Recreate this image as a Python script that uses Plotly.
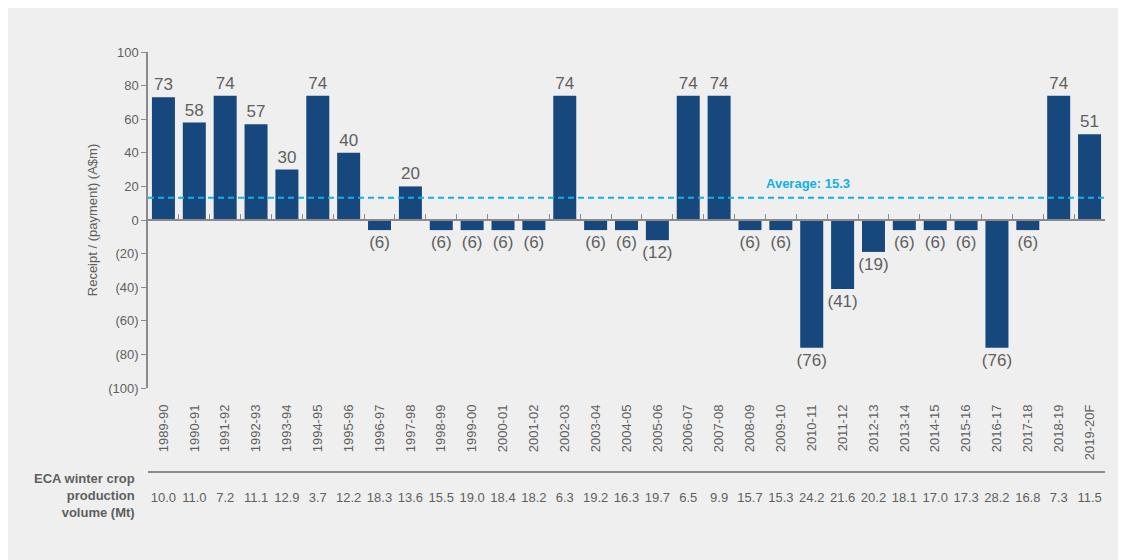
import plotly.graph_objects as go

categories = ["1989-90", "1990-91", "1991-92", "1992-93", "1993-94", "1994-95", "1995-96",
              "1996-97", "1997-98", "1998-99", "1999-00", "2000-01", "2001-02", "2002-03",
              "2003-04", "2004-05", "2005-06", "2006-07", "2007-08", "2008-09", "2009-10",
              "2010-11", "2011-12", "2012-13", "2013-14", "2014-15", "2015-16", "2016-17",
              "2017-18", "2018-19", "2019-20F"]
receipts = [73, 58, 74, 57, 30, 74, 40, -6, 20, -6, -6, -6, -6, 74, -6, -6, -12, 74, 74,
            -6, -6, -76, -41, -19, -6, -6, -6, -76, -6, 74, 51]
volumes = [10.0, 11.0, 7.2, 11.1, 12.9, 3.7, 12.2, 18.3, 13.6, 15.5, 19.0, 18.4, 18.2, 6.3,
           19.2, 16.3, 19.7, 6.5, 9.9, 15.7, 15.3, 24.2, 21.6, 20.2, 18.1, 17.0, 17.3, 28.2,
           16.8, 7.3, 11.5]
y_ticks = [100, 80, 60, 40, 20, 0, -20, -40, -60, -80, -100]
average_label = 15.3
average_line_level = 13.2
average_label_category = "2010-11"

GREY = "#5f5f5f"
BAR = "#16487e"
CYAN = "#12b0e3"
AXIS = "#8a8a8a"
BG = "#efefef"
FONT = "Arial, Liberation Sans, sans-serif"


def fmt(v):
    return f"({abs(v)})" if v < 0 else str(v)


# page is offset by the 8px body margin
W, H = 1118, 552
L, T = 140, 44
plot_right = 1097
sep_px = 464          # table separator line
bottom_px = 380       # bottom of value axis
zero_px = 212         # zero line
R = W - plot_right
B = H - sep_px
plot_h = H - T - B
plot_w = W - L - R
dom0 = (sep_px - bottom_px) / plot_h
zero_pos = (sep_px - zero_px) / plot_h

fig = go.Figure()
fig.add_trace(go.Bar(
    x=categories, y=receipts, marker_color=BAR, marker_line_width=0,
    text=[fmt(v) for v in receipts], textposition="outside", constraintext="none",
    textfont=dict(size=17, color=GREY, family=FONT), cliponaxis=False,
    showlegend=False, hoverinfo="x+y",
))
# invisible traces to carry the helper axes
fig.add_trace(go.Scatter(x=categories, y=receipts, xaxis="x2", mode="markers",
                         marker=dict(opacity=0), showlegend=False, hoverinfo="skip"))
fig.add_trace(go.Scatter(x=categories, y=receipts, xaxis="x3", mode="markers",
                         marker=dict(opacity=0), showlegend=False, hoverinfo="skip"))

rng = [-0.5, len(categories) - 0.5]
common = dict(type="category", categoryorder="array", categoryarray=categories, range=rng,
              showgrid=False, zeroline=False, fixedrange=True)

fig.update_layout(
    width=W, height=H,
    margin=dict(l=L, r=R, t=T, b=B, pad=0),
    paper_bgcolor=BG, plot_bgcolor=BG,
    font=dict(family=FONT, color=GREY, size=13),
    bargap=0.255,
    xaxis=dict(**common, anchor="y", showline=False, ticks="", tickangle=-90,
               tickfont=dict(size=13, color=GREY), ticklabelstandoff=13),
    xaxis2=dict(**common, overlaying="x", anchor="free", position=zero_pos,
                showline=True, linecolor=AXIS, linewidth=1.5, ticks="inside",
                tickson="boundaries", ticklen=5, tickcolor=AXIS, tickwidth=1,
                showticklabels=False),
    xaxis3=dict(**common, overlaying="x", anchor="free", position=0,
                showline=True, linecolor=AXIS, linewidth=1.5, ticks="",
                tickmode="array", tickvals=categories,
                ticktext=[f"{v:.1f}" for v in volumes],
                tickfont=dict(size=13, color=GREY), ticklabelstandoff=14),
    yaxis=dict(domain=[dom0, 1], range=[-100, 100], showgrid=False, zeroline=False,
               showline=True, linecolor=AXIS, linewidth=1.5, ticks="outside", ticklen=5,
               tickcolor=AXIS, tickmode="array", tickvals=y_ticks,
               ticktext=[fmt(v) for v in y_ticks], tickfont=dict(size=13, color=GREY),
               title=dict(text="Receipt / (payment) (A$m)", font=dict(size=13, color=GREY),
                          standoff=8),
               fixedrange=True),
)

# average line
fig.add_shape(type="line", xref="paper", yref="y", x0=0, x1=1,
              y0=average_line_level, y1=average_line_level,
              line=dict(color=CYAN, width=2, dash="6px,4px"), layer="above")
fig.add_annotation(x=average_label_category, y=average_line_level, xref="x", yref="y",
                   text=f"<b>Average: {average_label}</b>", showarrow=False,
                   yanchor="bottom", yshift=5, xshift=-4,
                   font=dict(size=13, color=CYAN, family=FONT))

# table label
fig.add_annotation(xref="paper", yref="paper", x=(129 - L) / plot_w,
                   y=-(487 - sep_px) / plot_h,
                   xanchor="right", yanchor="middle", align="right", showarrow=False,
                   text="<b>ECA winter crop<br>production<br>volume (Mt)</b>",
                   font=dict(size=13, color=GREY, family=FONT))

fig.write_html("out.html")
